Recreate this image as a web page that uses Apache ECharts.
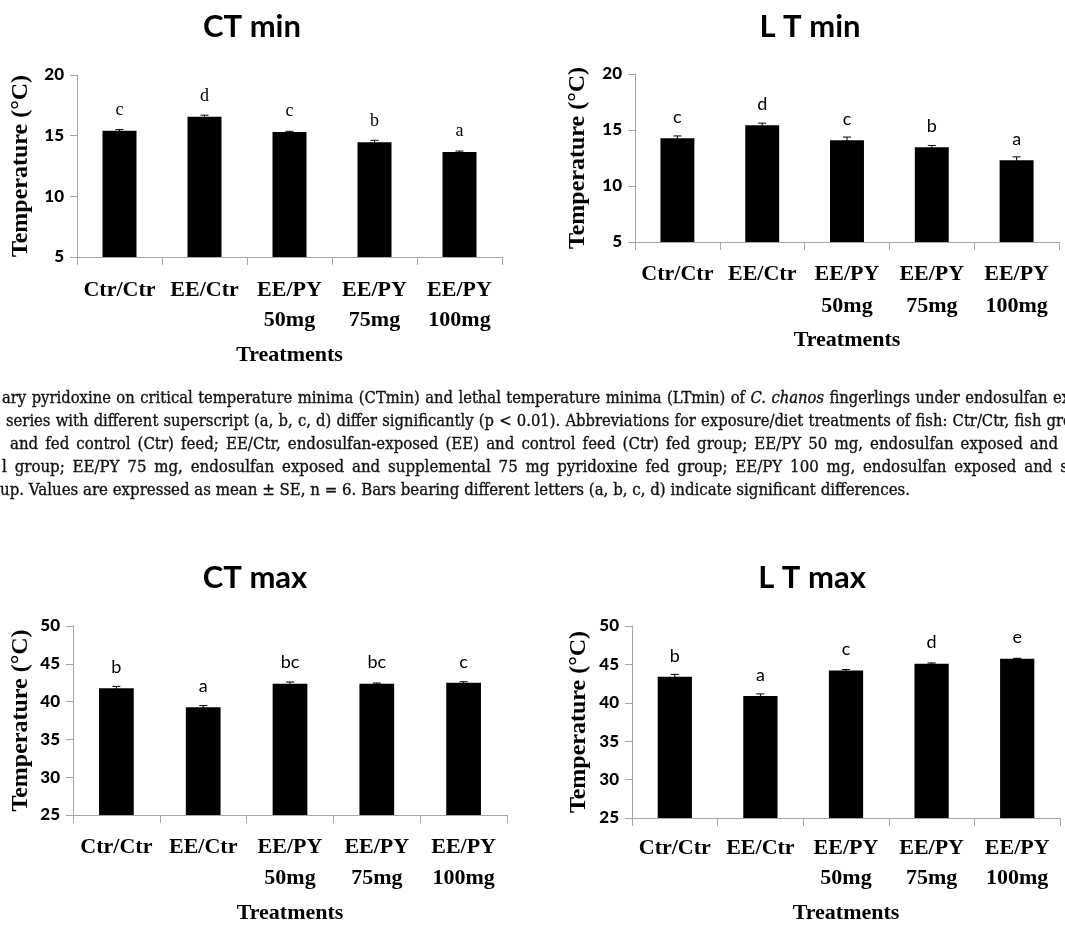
<!DOCTYPE html>
<html><head><meta charset="utf-8">
<script src="https://cdn.jsdelivr.net/npm/echarts@6/dist/echarts.min.js"></script>
<style>html,body{margin:0;padding:0;background:#fff}#c{width:1065px;height:926px}</style>
</head><body><div id="c"></div>
<script>
// ---------------- data ----------------
const categories = ['Ctr/Ctr', 'EE/Ctr', 'EE/PY\n50mg', 'EE/PY\n75mg', 'EE/PY\n100mg'];
const panelTitles = ['CT min', 'L T min', 'CT max', 'L T max'];

const ctMinValues = [15.4, 16.55, 15.3, 14.45, 13.65];
const ctMinErrors = [0.1, 0.14, 0.06, 0.17, 0.08];
const ctMinLetters = ['c', 'd', 'c', 'b', 'a'];

const ltMinValues = [14.27, 15.43, 14.09, 13.45, 12.3];
const ltMinErrors = [0.2, 0.18, 0.28, 0.17, 0.3];
const ltMinLetters = ['c', 'd', 'c', 'b', 'a'];

const ctMaxValues = [41.75, 39.25, 42.37, 42.37, 42.5];
const ctMaxErrors = [0.26, 0.22, 0.22, 0.09, 0.13];
const ctMaxLetters = ['b', 'a', 'bc', 'bc', 'c'];

const ltMaxValues = [43.4, 40.9, 44.2, 45.1, 45.75];
const ltMaxErrors = [0.3, 0.26, 0.13, 0.09, 0.05];
const ltMaxLetters = ['b', 'a', 'c', 'd', 'e'];

const minAxisRange = [5, 20];
const maxAxisRange = [25, 50];
const axisStep = 5;

const yAxisName = 'Temperature (°C)';
const xAxisName = 'Treatments';

const captionLines = [
  'ary pyridoxine on critical temperature minima (CTmin) and lethal temperature minima (LTmin) of C. chanos fingerlings under endosulfan ex',
  'series with different superscript (a, b, c, d) differ significantly (p < 0.01). Abbreviations for exposure/diet treatments of fish: Ctr/Ctr, fish gro',
  'and fed control (Ctr) feed; EE/Ctr, endosulfan-exposed (EE) and control feed (Ctr) fed group; EE/PY 50 mg, endosulfan exposed and',
  'l group; EE/PY 75 mg, endosulfan exposed and supplemental 75 mg pyridoxine fed group; EE/PY 100 mg, endosulfan exposed and s',
  'up. Values are expressed as mean ± SE, n = 6. Bars bearing different letters (a, b, c, d) indicate significant differences.'
];
const italicWords = ['C.', 'chanos'];

// ---------------- layout / style ----------------
const panels = [
  {values: ctMinValues, errors: ctMinErrors, letters: ctMinLetters, range: minAxisRange,
   grid: {left: 77, top: 75, width: 425, height: 182}, title: [252, 27], letterFont: 'Liberation Serif',
   labelMargin: 18, lineHeight: 30, nameGap: 44, xNameGap: 87},
  {values: ltMinValues, errors: ltMinErrors, letters: ltMinLetters, range: minAxisRange,
   grid: {left: 635, top: 74, width: 424, height: 168}, title: [810, 27], letterFont: 'Lato',
   labelMargin: 16, lineHeight: 32, nameGap: 45, xNameGap: 87},
  {values: ctMaxValues, errors: ctMaxErrors, letters: ctMaxLetters, range: maxAxisRange,
   grid: {left: 73, top: 626, width: 434, height: 189}, title: [255, 578], letterFont: 'Lato',
   labelMargin: 17, lineHeight: 31, nameGap: 40, xNameGap: 87},
  {values: ltMaxValues, errors: ltMaxErrors, letters: ltMaxLetters, range: maxAxisRange,
   grid: {left: 632, top: 626, width: 428, height: 192}, title: [812, 578], letterFont: 'Lato',
   labelMargin: 15, lineHeight: 30, nameGap: 41, xNameGap: 84}
];
const axisGray = '#a6a6a6';
const serifBold = {fontFamily: 'Liberation Serif', fontWeight: 'bold', color: '#000'};

const option = {
  backgroundColor: '#fff',
  animation: false,
  title: panels.map((p, i) => ({
    text: panelTitles[i], left: p.title[0], top: p.title[1], textAlign: 'center', textVerticalAlign: 'middle',
    padding: 0, textStyle: {fontFamily: 'Lato', fontWeight: 'bold', fontSize: 31, color: '#000'}
  })),
  grid: panels.map(p => Object.assign({containLabel: false, outerBoundsMode: 'none'}, p.grid)),
  xAxis: panels.map((p, i) => ({
    gridIndex: i, type: 'category', data: categories,
    axisLine: {show: true, lineStyle: {color: axisGray, width: 1}},
    axisTick: {show: true, length: 8, alignWithLabel: false, lineStyle: {color: axisGray}},
    axisLabel: Object.assign({interval: 0, fontSize: 22, lineHeight: p.lineHeight, margin: p.labelMargin}, serifBold),
    splitLine: {show: false},
    name: xAxisName, nameLocation: 'middle', nameGap: p.xNameGap,
    nameTextStyle: Object.assign({fontSize: 22}, serifBold)
  })),
  yAxis: panels.map((p, i) => ({
    gridIndex: i, type: 'value', min: p.range[0], max: p.range[1], interval: axisStep,
    axisLine: {show: true, lineStyle: {color: axisGray, width: 1}},
    axisTick: {show: true, length: 7, lineStyle: {color: axisGray}},
    splitLine: {show: false},
    axisLabel: {fontFamily: 'Lato', fontWeight: 900, fontSize: 17, color: '#000', margin: 13},
    name: yAxisName, nameLocation: 'middle', nameGap: p.nameGap,
    nameTextStyle: Object.assign({fontSize: 24}, serifBold)
  })),
  series: []
};

panels.forEach((p, i) => {
  option.series.push({
    type: 'bar', xAxisIndex: i, yAxisIndex: i, data: p.values, barWidth: '40%', clip: true,
    itemStyle: {color: '#000'},
    label: {show: true, position: 'top', distance: 12, formatter: (d) => p.letters[d.dataIndex],
      fontFamily: p.letterFont, fontSize: 18, color: '#000'}
  });
  option.series.push({
    type: 'custom', xAxisIndex: i, yAxisIndex: i, z: 5,
    data: p.values.map((v, k) => [k, v, p.errors[k]]),
    renderItem: (params, api) => {
      const x = api.value(0), m = api.value(1), e = api.value(2);
      const top = api.coord([x, m + e]);
      const bot = api.coord([x, m - e]);
      const hw = 4;
      const st = {stroke: '#000', lineWidth: 1};
      return {type: 'group', children: [
        {type: 'line', shape: {x1: top[0], y1: top[1], x2: bot[0], y2: bot[1]}, style: st},
        {type: 'line', shape: {x1: top[0] - hw, y1: top[1], x2: top[0] + hw, y2: top[1]}, style: st},
        {type: 'line', shape: {x1: bot[0] - hw, y1: bot[1], x2: bot[0] + hw, y2: bot[1]}, style: st}
      ]};
    }
  });
});

// ---------------- caption (horizontally scaled, justified words) ----------------
const capFamily = '"DejaVu Serif"';
const capSize = 16;
const capLayout = [
  {x0: 2, x1: 1070, y: 399, justify: true, group: 'A'},
  {x0: 6, x1: 1072, y: 422, justify: true, group: 'A'},
  {x0: 10, x1: 1058, y: 445, justify: true, group: 'B'},
  {x0: 2, x1: 1068, y: 468, justify: true, group: 'B'},
  {x0: 0, x1: 910, y: 491, justify: false, group: 'B'}
];
const ctx = document.createElement('canvas').getContext('2d');
function fontStr(wd) { return (italicWords.includes(wd) ? 'italic' : 'normal') + ' normal ' + capSize + 'px ' + capFamily; }
function wordWidths(text) { return text.split(' ').map(wd => { ctx.font = fontStr(wd); return ctx.measureText(wd).width; }); }
ctx.font = fontStr('x');
const spaceW = ctx.measureText(' ').width;
function natWidth(text) { const w = wordWidths(text); return w.reduce((a, b) => a + b, 0) + spaceW * (w.length - 1); }
const ratio = captionLines.map((t, i) => (capLayout[i].x1 - capLayout[i].x0) / natWidth(t));
const scaleA = Math.min(ratio[0], ratio[1]) * 0.99;
const scaleB = ratio[4];
const graphics = [];
captionLines.forEach((text, idx) => {
  const L = capLayout[idx];
  const s = L.group === 'A' ? scaleA : scaleB;
  const words = text.split(' ');
  const widths = wordWidths(text).map(w => w * s);
  const total = widths.reduce((a, b) => a + b, 0);
  const gap = L.justify ? (L.x1 - L.x0 - total) / (words.length - 1) : spaceW * s;
  let x = L.x0;
  words.forEach((wd, k) => {
    graphics.push({type: 'text', x: x, y: L.y, scaleX: s, scaleY: 1, silent: true,
      style: {text: wd, font: fontStr(wd), fill: '#111', stroke: '#111', lineWidth: 0.35,
        textAlign: 'left', textVerticalAlign: 'middle', align: 'left', verticalAlign: 'middle'}});
    x += widths[k] + gap;
  });
});
option.graphic = {elements: graphics};

const chart = echarts.init(document.getElementById('c'), null, {renderer: 'canvas'});
chart.setOption(option);
</script>
</body></html>
